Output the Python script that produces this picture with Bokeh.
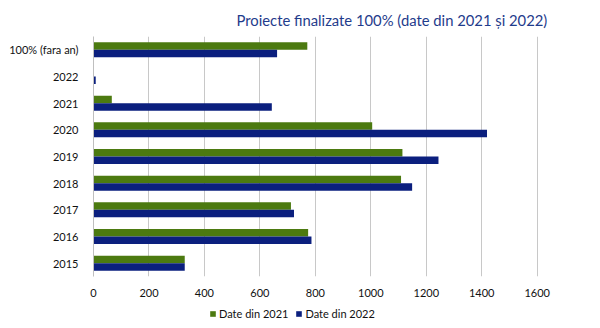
from bokeh.plotting import figure
from bokeh.layouts import column
from bokeh.models import ColumnDataSource, FactorRange, Range1d, Legend, LegendItem, FixedTicker
from bokeh.transform import dodge
from bokeh.embed import file_html
from bokeh.resources import INLINE

categories = ["2015", "2016", "2017", "2018", "2019", "2020", "2021", "2022", "100% (fara an)"]
date_2021 = [329, 774, 712, 1109, 1114, 1005, 66, 0, 771]
date_2022 = [329, 786, 723, 1149, 1244, 1419, 643, 8, 662]
x_ticks = [0, 200, 400, 600, 800, 1000, 1200, 1400, 1600]
series_names = ["Date din 2021", "Date din 2022"]
title_text = "Proiecte finalizate 100% (date din 2021 și 2022)"

GREEN = "#4C7A10"
BLUE = "#0B1F7E"
FONT = "Lato"

src = ColumnDataSource(dict(cat=categories, a=date_2021, b=date_2022))

p = figure(width=600, height=300, output_backend="svg", toolbar_location=None,
           y_range=FactorRange(factors=categories, range_padding=0), x_range=Range1d(0, 1785),
           min_border_left=93, min_border_right=12, min_border_top=0, min_border_bottom=24)
p.title.text = title_text
p.title.text_font = FONT
p.title.text_font_size = "14.8px"
p.title.text_font_style = "normal"
p.title.text_color = "#1F3C8C"
p.title.align = "left"
p.title.offset = 143
p.title.standoff = 16

r1 = p.hbar(y=dodge("cat", 0.14, range=p.y_range), right="a", height=0.28, left=0,
            source=src, color=GREEN, line_color=None)
r2 = p.hbar(y=dodge("cat", -0.14, range=p.y_range), right="b", height=0.28, left=0,
            source=src, color=BLUE, line_color=None)

p.xaxis.ticker = FixedTicker(ticks=x_ticks)
p.xaxis.axis_line_color = None
p.xaxis.major_tick_line_color = None
p.xaxis.minor_tick_line_color = None
p.xaxis.major_label_standoff = 6
p.yaxis.axis_line_color = "#BFBFBF"
p.yaxis.major_tick_line_color = None
p.yaxis.minor_tick_line_color = None
p.yaxis.major_label_standoff = 9
for ax in (p.xaxis, p.yaxis):
    ax.major_label_text_font = FONT
    ax.major_label_text_font_size = "11px"
    ax.major_label_text_color = "#111111"

p.xgrid.ticker = FixedTicker(ticks=x_ticks)
p.xgrid.grid_line_color = "#C8C8C8"
p.ygrid.grid_line_color = None
p.outline_line_color = None

# legend strip below the chart
p2 = figure(width=600, height=28, output_backend="svg", toolbar_location=None,
            x_range=Range1d(0, 600), y_range=Range1d(0, 28),
            min_border=0, x_axis_type=None, y_axis_type=None)
p2.grid.visible = False
p2.outline_line_color = None
hidden = ColumnDataSource(dict(y=[-100], right=[1]))
l1 = p2.hbar(y="y", right="right", height=1, source=hidden, color=GREEN, line_color=None)
l2 = p2.hbar(y="y", right="right", height=1, source=hidden, color=BLUE, line_color=None)

legend = Legend(items=[LegendItem(label=series_names[0], renderers=[l1]),
                       LegendItem(label=series_names[1], renderers=[l2])],
                orientation="horizontal", location=(116, 8),
                glyph_width=7, glyph_height=7, label_text_font=FONT,
                label_text_font_size="11px", label_text_color="#111111",
                spacing=7, padding=2, margin=0, label_standoff=3,
                border_line_color=None, background_fill_alpha=0)
p2.add_layout(legend, "center")

layout = column(p, p2, spacing=0)
open("out.html", "w").write(file_html(layout, INLINE))
